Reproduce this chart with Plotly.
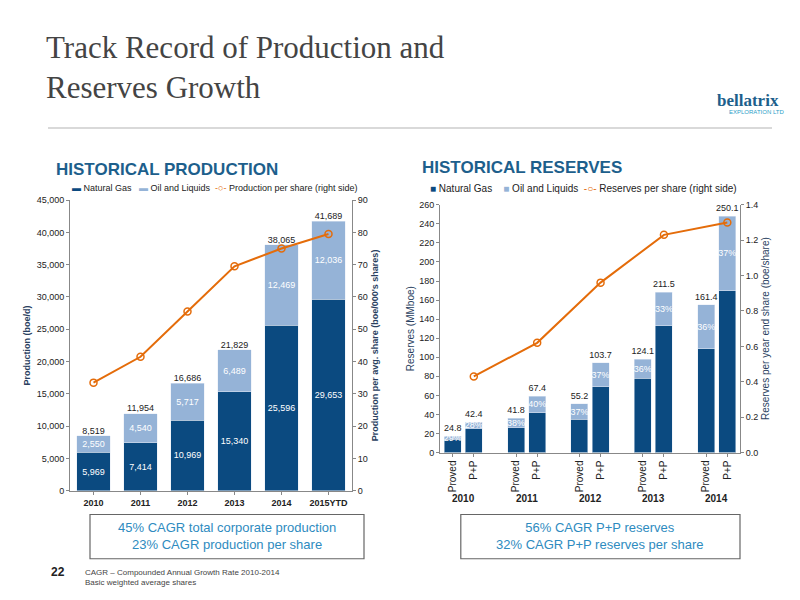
import plotly.graph_objects as go

years = ["2010", "2011", "2012", "2013", "2014", "2015YTD"]
prod_gas = [5969, 7414, 10969, 15340, 25596, 29653]
prod_oil = [2550, 4540, 5717, 6489, 12469, 12036]
prod_total = [8519, 11954, 16686, 21829, 38065, 41689]
prod_per_share = [33.5, 41.5, 55.5, 69.5, 75, 79.5]

res_years = ["2010", "2011", "2012", "2013", "2014"]
res_cats = ["Proved", "P+P"]
res_gas = [14, 25, 26, 42, 35, 69, 78, 133, 109, 170]
res_oil = [3, 7, 10, 17, 16, 25, 20, 35, 46, 78]
res_labels = ["24.8", "42.4", "41.8", "67.4", "55.2", "103.7", "124.1", "211.5", "161.4", "250.1"]
res_pct = ["29%", "28%", "38%", "40%", "37%", "37%", "36%", "33%", "36%", "37%"]
res_per_share = [0.43, 0.62, 0.96, 1.23, 1.30]

NAVY = "#0b4a80"
LIGHT = "#95b3d7"
ORANGE = "#e46c0a"
TEAL = "#2e8bc0"
F = "Liberation Sans Narrow, Liberation Sans, Arial"

fig = go.Figure()
fig.add_bar(x=years, y=prod_gas, marker_color=NAVY, text=[f"{v:,}" for v in prod_gas],
            textposition="inside", insidetextanchor="middle", textangle=0,
            textfont=dict(color="white", size=9), xaxis="x", yaxis="y", width=0.72, showlegend=False)
fig.add_bar(x=years, y=prod_oil, marker_color=LIGHT, text=[f"{v:,}" for v in prod_oil],
            textposition="inside", insidetextanchor="middle", textangle=0,
            textfont=dict(color="white", size=9), xaxis="x", yaxis="y", width=0.72, showlegend=False)
fig.add_scatter(x=years, y=prod_total, mode="text",
                text=[f"{v:,}" for v in prod_total], textposition="top center",
                textfont=dict(size=9, color="#222"), xaxis="x", yaxis="y", showlegend=False, cliponaxis=False)
fig.add_scatter(x=years, y=prod_per_share, mode="lines+markers", line=dict(color=ORANGE, width=2),
                marker=dict(symbol="circle-open", size=7, color=ORANGE, line=dict(width=1.5)),
                xaxis="x", yaxis="y2", showlegend=False)

pos = []
for i in range(len(res_years)):
    pos += [i * 3, i * 3 + 1]
fig.add_bar(x=pos, y=res_gas, marker_color=NAVY, xaxis="x3", yaxis="y3", width=0.8, showlegend=False)
fig.add_bar(x=pos, y=res_oil, marker_color=LIGHT, text=res_pct, textposition="inside", textangle=0,
            insidetextanchor="middle", textfont=dict(color="white", size=9), constraintext="none",
            xaxis="x3", yaxis="y3", width=0.8, showlegend=False)
fig.add_scatter(x=pos, y=[g + o + 3 for g, o in zip(res_gas, res_oil)], mode="text", text=res_labels,
                textposition="top center", textfont=dict(size=9, color="#222"),
                xaxis="x3", yaxis="y3", showlegend=False, cliponaxis=False)
fig.add_scatter(x=pos[1::2], y=res_per_share, mode="lines+markers", line=dict(color=ORANGE, width=2),
                marker=dict(symbol="circle-open", size=7, color=ORANGE, line=dict(width=1.5)),
                xaxis="x3", yaxis="y4", showlegend=False)

ax = dict(showgrid=False, linecolor="#888", showline=True, tickfont=dict(size=9, family=F, color="#222"),
          ticks="outside", ticklen=3, tickcolor="#888")
fig.update_layout(
    width=800, height=600, margin=dict(l=0, r=0, t=0, b=0), barmode="stack",
    paper_bgcolor="white", plot_bgcolor="white", font=dict(family=F),
    xaxis=dict(domain=[0.0775, 0.43], anchor="y", **{**ax, "tickfont": dict(size=9, family=F, color="#222", weight="bold")}),
    yaxis=dict(domain=[0.19, 0.683], range=[0, 45000], dtick=5000, tickformat=",", anchor="x",
               title=dict(text="<b>Production (boe/d)</b>", font=dict(size=9), standoff=4), **ax),
    yaxis2=dict(domain=[0.19, 0.683], range=[0, 90], dtick=10, overlaying="y", side="right", anchor="x",
                title=dict(text="<b>Production per avg. share (boe/000's shares)</b>", font=dict(size=9), standoff=4), **ax),
    xaxis3=dict(domain=[0.54, 0.915], anchor="y3", range=[-0.6, 13.6], tickmode="array",
                tickvals=pos, ticktext=res_cats * len(res_years), tickangle=-90,
                **{**ax, "tickfont": dict(size=10, family=F, color="#222")}),
    yaxis3=dict(domain=[0.255, 0.675], range=[0, 260], dtick=20, anchor="x3",
                title=dict(text="Reserves (MMboe)", font=dict(size=10), standoff=2), **ax),
    yaxis4=dict(domain=[0.255, 0.675], range=[0, 1.4], dtick=0.2, tickformat=".1f", overlaying="y3",
                side="right", anchor="x3",
                title=dict(text="Reserves per year end share (boe/share)", font=dict(size=10), standoff=4), **ax),
)

ann = []
def A(x, y, t, **k):
    d = dict(x=x, y=y, xref="paper", yref="paper", text=t, showarrow=False)
    d.update(k)
    ann.append(d)

A(0.045, 0.975, "Track Record of Production and<br>Reserves Growth", xanchor="left", yanchor="top",
  align="left", font=dict(family="Liberation Serif", size=31, color="#444"))
A(0.925, 0.872, "<b>bellatrix</b>", xanchor="center", font=dict(size=17, color="#1d5f8c", family="Liberation Sans Narrow"))
A(0.935, 0.84, "EXPLORATION LTD", xanchor="center", font=dict(size=6, color="#2aa0c8"))
A(0.058, 0.755, "<b>HISTORICAL PRODUCTION</b>", xanchor="left", font=dict(size=17, color="#1d5f8c"))
A(0.515, 0.757, "<b>HISTORICAL RESERVES</b>", xanchor="left", font=dict(size=17, color="#1d5f8c"))
A(0.077, 0.715, "<span style='color:#0b4a80'>▬</span> Natural Gas   <span style='color:#95b3d7'>▬</span> Oil and Liquids  <span style='color:#e46c0a'>-○-</span> Production per share (right side)",
  xanchor="left", font=dict(size=9, color="#222"))
A(0.525, 0.715, "<span style='color:#0b4a80'>■</span> Natural Gas    <span style='color:#95b3d7'>■</span> Oil and Liquids  <span style='color:#e46c0a'>-○-</span> Reserves per share (right side)",
  xanchor="left", font=dict(size=10, color="#222"))
for i, y in enumerate(res_years):
    A(0.54 + 0.375 * ((i * 3 + 0.5 + 0.6) / 14.2), 0.164, f"<b>{y}</b>", xanchor="center", font=dict(size=10, color="#222"))
A(0.274, 0.113, "45% CAGR total corporate production<br>23% CAGR production per share", xanchor="center",
  yanchor="middle", align="center", font=dict(size=13, color=TEAL))
A(0.74, 0.113, "56% CAGR P+P reserves<br>32% CAGR P+P reserves per share", xanchor="center",
  yanchor="middle", align="center", font=dict(size=13, color=TEAL))
A(0.063, 0.038, "<b>22</b>", font=dict(size=12, color="#222"), xanchor="center")
A(0.094, 0.043, "CAGR – Compounded Annual Growth Rate 2010-2014<br>Basic weighted average shares", xanchor="left",
  yanchor="middle", align="left", font=dict(size=8, color="#444"))
fig.update_layout(annotations=ann)
fig.add_shape(type="line", xref="paper", yref="paper", x0=0.05, x1=0.955, y0=0.805, y1=0.805,
              line=dict(color="#ccc", width=1.5))
for x0, x1 in [(0.1025, 0.445), (0.566, 0.915)]:
    fig.add_shape(type="rect", xref="paper", yref="paper", x0=x0, x1=x1, y0=0.075, y1=0.150,
                  line=dict(color="#666", width=1.2))
fig.write_html("out.html")
